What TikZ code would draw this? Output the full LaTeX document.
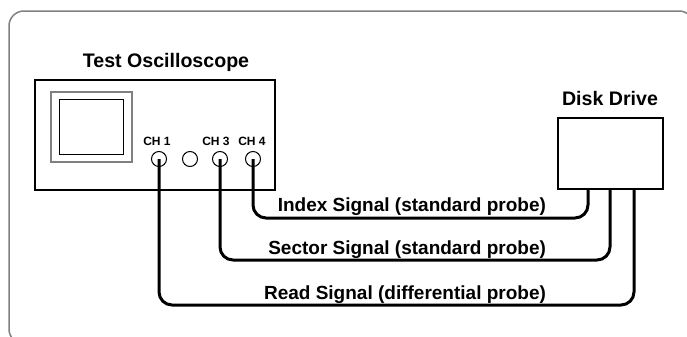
\documentclass[tikz,border=0pt]{standalone}
\usepackage{fontspec}
\setmainfont{Liberation Sans}
\usetikzlibrary{positioning}
\tikzset{
	unit/.style={draw,line width=1.2pt,inner sep=0pt},
	jack/.style={draw,circle,line width=0.5pt,inner sep=0pt,minimum size=7.5pt},
	cable/.style={line width=1.5pt,rounded corners=6.5pt},
	title/.style={font=\fontsize{9.8}{11}\selectfont\bfseries,anchor=base},
	siglabel/.style={font=\fontsize{9.5}{11}\selectfont\bfseries,anchor=base east},
	chlabel/.style={font=\fontsize{6}{7}\selectfont\bfseries,anchor=base}
}

\begin{document}
\begin{tikzpicture}[x=0.5pt,y=-0.5pt]
	\useasboundingbox (0,0) rectangle (687,337);
	\clip (0,0) rectangle (687,337);

	% frame
	\draw[gray,line width=0.75pt,rounded corners=7.5pt] (9,11) rectangle (694,344);

	% oscilloscope
	\node[unit,minimum width=120pt,minimum height=55pt] (scope) at (155,135) {};
	\node[title] (scopetitle) at (166,68) {Test Oscilloscope};
	\node[draw=gray,line width=0.6pt,inner sep=0pt,minimum width=40.5pt,minimum height=35pt] (bezel) at (91.5,127) {};
	\node[draw,line width=0.7pt,inner sep=0pt,minimum width=32pt,minimum height=27.5pt] (screen) at (bezel.center) {};

	% inputs
	\node[jack] (ch1) at (159,159) {};
	\node[jack] (ch2) at (190,159) {};
	\node[jack] (ch3) at (220,159) {};
	\node[jack] (ch4) at (253,159) {};
	\node[chlabel] (ch1lbl) at (157,145) {CH 1};
	\node[chlabel] (ch3lbl) at (216,145) {CH 3};
	\node[chlabel] (ch4lbl) at (252,145) {CH 4};

	% disk drive
	\node[unit,minimum width=52.5pt,minimum height=35.5pt] (drive) at (610.5,153.5) {};
	\node[title] (drivetitle) at (610,105) {Disk Drive};
	\coordinate (pidx) at (588,189);
	\coordinate (psec) at (610,189);
	\coordinate (pread) at (634,189);

	% cables
	\draw[cable] (ch4.center) |- (pidx |- 0,218) -- (pidx);
	\draw[cable] (ch3.center) |- (psec |- 0,260) -- (psec);
	\draw[cable] (ch1.center) |- (pread |- 0,305) -- (pread);

	\node[siglabel] (idxlbl) at (553,212) {Index Signal (standard probe)};
	\node[siglabel] (seclbl) at (553,254) {Sector Signal (standard probe)};
	\node[siglabel] (readlbl) at (553,299) {Read Signal (differential probe)};
\end{tikzpicture}
\end{document}
